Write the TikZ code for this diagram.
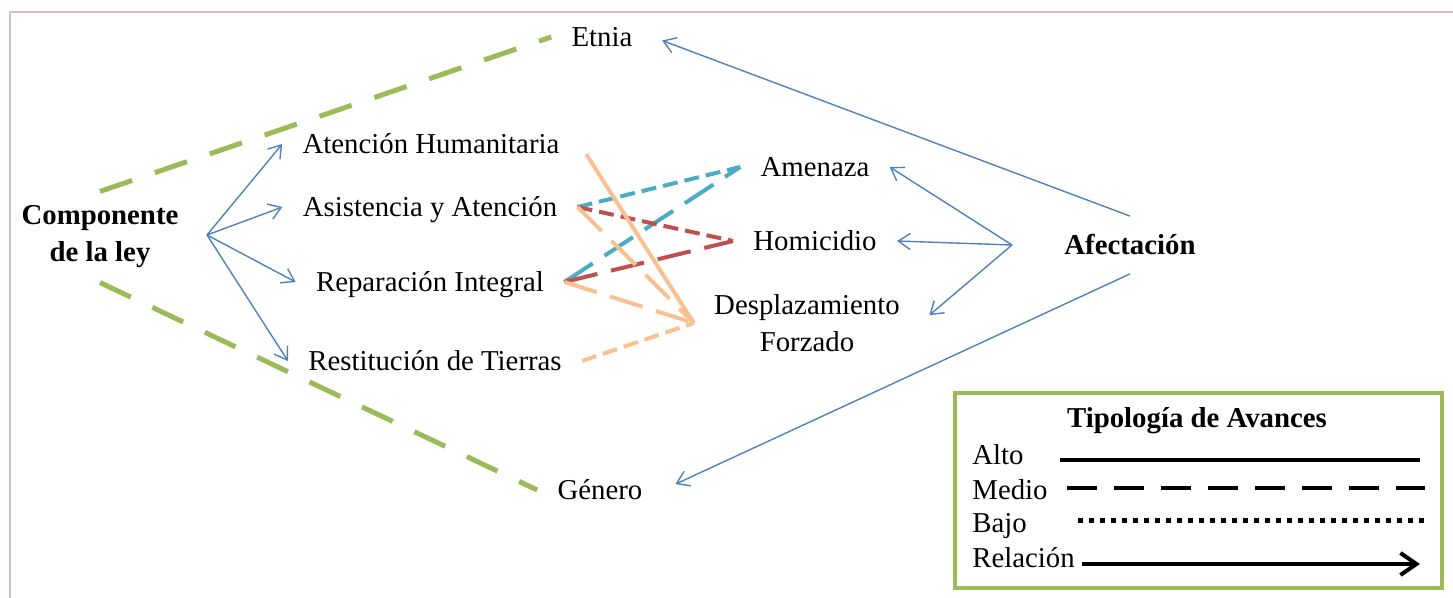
\documentclass[tikz,border=0pt]{standalone}
\usepackage{fontspec}
\setmainfont{Liberation Serif}
\usepackage{tikz}
\usetikzlibrary{arrows.meta}
\usepackage{xcolor}

\definecolor{marco}{HTML}{E6B9B8}
\definecolor{verde}{HTML}{9BBB59}
\definecolor{azul}{HTML}{4F81BD}
\definecolor{turq}{HTML}{4BACC6}
\definecolor{rojo}{HTML}{C0504D}
\definecolor{naranja}{HTML}{FAC090}

\newcommand\fuente{\fontsize{14.4}{18.5}\selectfont}

\tikzset{
  texto/.style={font=\fuente, inner xsep=10pt, inner ysep=7pt},
  una linea/.style={text height=12pt, text depth=2.5pt},
  negrita/.style={font=\fuente\bfseries},
  rel/.style={azul, line width=0.7pt},
  eje/.style={verde, line width=2.5pt, dash pattern=on 17pt off 12pt},
  alto/.style={line width=2pt},
  medio/.style={line width=2pt, dash pattern=on 17pt off 7pt},
  bajo/.style={line width=2pt, dash pattern=on 7.5pt off 3.5pt},
}

\begin{document}
\begin{tikzpicture}[x=0.5pt, y=-0.5pt, >={Straight Barb[length=6pt,width=8pt]}]

	\useasboundingbox (0,0) rectangle (1453,598);
	\draw [marco, line width=1pt] (10,598) -- (10,12) -- (1453,12);

	% componentes
	\node [texto, negrita, align=center] (comp) at (100,237) {Componente\\de la ley};
	\foreach \m/\l/\x/\y in {aten/Atención Humanitaria/431/144, asis/Asistencia y Atención/430/207,
	  repa/Reparación Integral/430/282, rest/Restitución de Tierras/435/361}
	  \node [texto, una linea] (\m) at (\x,\y) {\l};

	\node [texto, una linea] (etnia) at (602,37) {Etnia};
	\node [texto, una linea] (genero) at (600,490) {Género};

	% afectacion
	\foreach \m/\l/\y in {amen/Amenaza/167, homi/Homicidio/241}
	  \node [texto, una linea] (\m) at (815,\y) {\l};
	\node [texto, align=center] (desp) at (807,323) {Desplazamiento\\Forzado};
	\node [texto, una linea, negrita] (afec) at (1130,245) {Afectación};

	% relaciones
	\coordinate (comp-f) at (207,235);
	\foreach \m in {aten,asis,repa,rest}
	  \draw [rel, ->] (comp-f) -- (\m.west);
	\draw [eje] (comp.north) -- (etnia.west);
	\draw [eje] (comp.south) -- (genero.west);

	\coordinate (afec-f) at (1012,245);
	\foreach \m in {amen,homi}
	  \draw [rel, ->] (afec-f) -- (\m.east);
	\draw [rel, ->, shorten >=6pt] (afec-f) -- (desp.east);
	\draw [rel, ->, shorten >=5pt] (afec.north) -- (etnia.east);
	\draw [rel, ->, shorten >=7pt] (afec.south) -- (genero.east);

	% avances
	\foreach \p/\q/\col/\lin in {asis/amen/turq/bajo, repa/amen/turq/medio,
	  asis/homi/rojo/bajo, repa/homi/rojo/medio, asis/desp/naranja/medio,
	  repa/desp/naranja/medio, rest/desp/naranja/bajo}
	  \draw [\lin, \col] (\p.east) -- (\q.west);
	\draw [alto, naranja, shorten <=6pt] (aten.east) -- (desp.west);

	% leyenda
	\draw [verde, line width=2pt] (955,393) rectangle (1442,588);
	\node [texto, una linea, negrita] (tipo) at (1197,418) {Tipología de Avances};
	\foreach \m/\l/\y in {alto/Alto/455, medio/Medio/490, bajo/Bajo/523, relacion/Relación/558}
	  \node [texto, una linea, anchor=west, inner xsep=0pt] (ley-\m) at (972,\y) {\l};
	\draw [alto] (1060,460) -- (1420,460);
	\draw [medio, dash pattern=on 15pt off 8.5pt] (1067,488) -- (1425,488);
	\draw [line width=2.5pt, dash pattern=on 2.5pt off 3pt] (1078,521) -- (1425,521);
	\draw [alto, -{Straight Barb[length=8pt,width=11pt]}] (1082,564) -- (1420,564);
\end{tikzpicture}
\end{document}
